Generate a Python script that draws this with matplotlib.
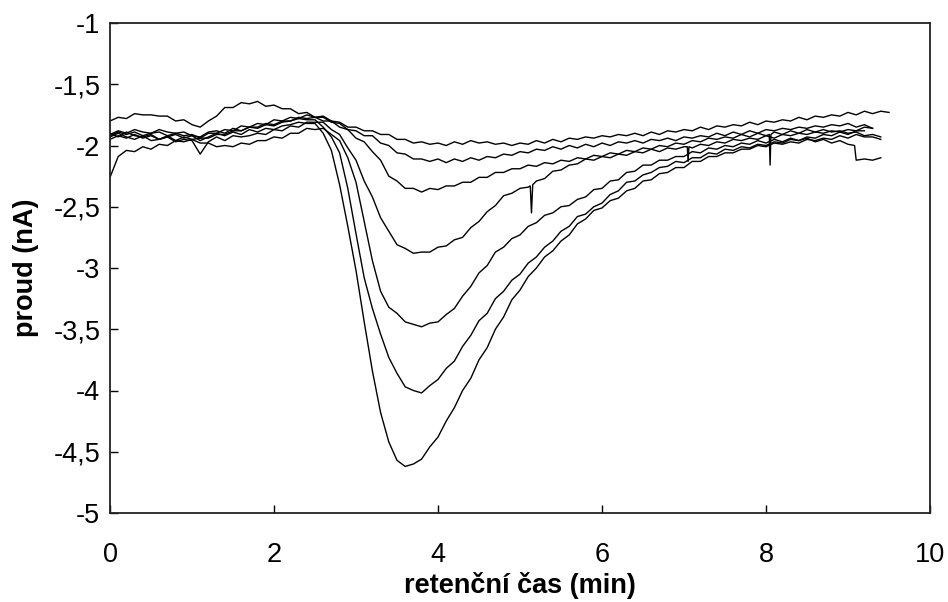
import numpy as np
import matplotlib
matplotlib.use("Agg")
import matplotlib.pyplot as plt
from matplotlib.ticker import FuncFormatter

plt.rcParams['font.family'] = ['Liberation Sans', 'DejaVu Sans']

# sampling step of the traces (min)
step = 0.1

c1 = [-1.95,-1.92,-1.94,-1.91,-1.94,-1.92,-1.95,-1.93,-1.91,-1.94,
      -1.92,-1.96,-1.93,-1.90,-1.92,-1.89,-1.91,-1.87,-1.89,-1.86,
      -1.87,-1.84,-1.83,-1.81,-1.82,-1.82,-1.90,-2.04,-2.32,-2.66,
      -3.02,-3.44,-3.84,-4.18,-4.42,-4.57,-4.62,-4.60,-4.56,-4.46,
      -4.38,-4.25,-4.14,-4.00,-3.90,-3.75,-3.65,-3.50,-3.40,-3.26,
      -3.18,-3.07,-3.00,-2.91,-2.86,-2.78,-2.73,-2.64,-2.60,-2.53,
      -2.51,-2.45,-2.43,-2.37,-2.35,-2.29,-2.28,-2.23,-2.22,-2.18,
      -2.18,-2.13,-2.13,-2.09,-2.09,-2.06,-2.06,-2.03,-2.03,-2.00,
      -2.01,-1.98,-1.99,-1.97,-1.98,-1.95,-1.96,-1.94,-1.95,-1.92,
      -1.94,-1.91,-1.93,-1.93,-1.95]

c2 = [-1.92,-1.89,-1.91,-1.89,-1.92,-1.90,-1.89,-1.92,-1.90,-1.89,
      -1.92,-1.93,-1.89,-1.88,-1.90,-1.86,-1.88,-1.85,-1.86,-1.83,
      -1.84,-1.81,-1.80,-1.78,-1.79,-1.79,-1.85,-1.93,-2.06,-2.35,
      -2.72,-3.08,-3.33,-3.54,-3.73,-3.86,-3.97,-4.00,-4.02,-3.96,
      -3.91,-3.82,-3.76,-3.64,-3.55,-3.43,-3.37,-3.25,-3.19,-3.10,
      -3.05,-2.96,-2.91,-2.83,-2.78,-2.70,-2.66,-2.58,-2.56,-2.50,
      -2.47,-2.40,-2.37,-2.30,-2.29,-2.24,-2.22,-2.18,-2.17,-2.13,
      -2.14,-2.10,-2.10,-2.06,-2.07,-2.03,-2.04,-2.01,-2.02,-1.99,
      -2.00,-1.97,-1.98,-1.95,-1.96,-1.93,-1.94,-1.91,-1.92,-1.89,
      -1.91,-1.88,-1.88]

c3 = [-2.26,-2.09,-2.04,-2.05,-2.01,-2.03,-1.99,-2.00,-1.96,-1.97,
      -1.95,-1.98,-1.98,-2.01,-2.00,-2.01,-1.98,-1.99,-1.96,-1.96,
      -1.93,-1.94,-1.90,-1.90,-1.86,-1.87,-1.86,-1.91,-1.96,-2.10,
      -2.30,-2.62,-2.94,-3.19,-3.32,-3.37,-3.44,-3.46,-3.48,-3.45,
      -3.44,-3.38,-3.33,-3.23,-3.15,-3.04,-2.98,-2.87,-2.83,-2.76,
      -2.73,-2.66,-2.63,-2.57,-2.55,-2.50,-2.49,-2.44,-2.42,-2.36,
      -2.35,-2.29,-2.28,-2.22,-2.21,-2.16,-2.16,-2.12,-2.12,-2.09,
      -2.09,-2.05,-2.06,-2.02,-2.03,-2.00,-2.01,-1.98,-1.99,-1.96,
      -1.98,-1.95,-1.97,-1.94,-1.96,-1.94,-1.97,-1.95,-1.98,-1.96,
      -1.99,-2.12,-2.11,-2.12,-2.10]

c4 = [-1.93,-1.90,-1.93,-1.95,-1.92,-1.96,-1.95,-1.93,-1.97,-1.95,
      -1.96,-2.07,-1.97,-1.93,-1.96,-1.92,-1.93,-1.92,-1.90,-1.91,
      -1.87,-1.88,-1.84,-1.85,-1.81,-1.81,-1.81,-1.87,-1.91,-2.02,
      -2.12,-2.29,-2.42,-2.59,-2.70,-2.81,-2.84,-2.88,-2.87,-2.87,
      -2.83,-2.82,-2.77,-2.75,-2.67,-2.62,-2.54,-2.49,-2.41,-2.39,
      -2.35,-2.34,-2.29,-2.27,-2.21,-2.20,-2.16,-2.15,-2.11,-2.12,
      -2.09,-2.10,-2.07,-2.08,-2.05,-2.06,-2.03,-2.05,-2.02,-2.03,
      -2.01,-2.02,-1.99,-2.00,-1.97,-1.98,-1.95,-1.96,-1.94,-1.95,
      -1.92,-1.94,-1.91,-1.92,-1.90,-1.91,-1.89,-1.90,-1.88,-1.89,
      -1.87,-1.88,-1.85,-1.86]

c5 = [-1.90,-1.93,-1.89,-1.92,-1.93,-1.91,-1.95,-1.92,-1.96,-1.93,
      -1.95,-1.94,-1.94,-1.91,-1.91,-1.88,-1.88,-1.85,-1.85,-1.82,
      -1.83,-1.80,-1.80,-1.77,-1.78,-1.77,-1.80,-1.80,-1.85,-1.87,
      -1.94,-1.97,-2.05,-2.12,-2.25,-2.29,-2.35,-2.35,-2.38,-2.35,
      -2.36,-2.33,-2.33,-2.30,-2.30,-2.26,-2.26,-2.22,-2.22,-2.19,
      -2.19,-2.16,-2.17,-2.14,-2.15,-2.12,-2.13,-2.10,-2.11,-2.08,
      -2.09,-2.06,-2.07,-2.04,-2.05,-2.02,-2.03,-2.00,-2.01,-1.98,
      -1.99,-1.96,-1.97,-1.94,-1.95,-1.93,-1.94,-1.91,-1.93,-1.90,
      -1.92,-1.89,-1.91,-1.88,-1.90,-1.87,-1.89,-1.87,-1.89,-1.88,
      -1.90,-1.89,-1.92,-1.91,-1.93]

c6 = [-1.91,-1.88,-1.90,-1.87,-1.89,-1.90,-1.87,-1.89,-1.90,-1.92,
      -1.91,-1.94,-1.90,-1.90,-1.87,-1.88,-1.84,-1.85,-1.82,-1.83,
      -1.79,-1.80,-1.77,-1.78,-1.75,-1.77,-1.77,-1.81,-1.82,-1.87,
      -1.88,-1.92,-1.92,-1.98,-2.00,-2.06,-2.07,-2.11,-2.11,-2.13,
      -2.11,-2.14,-2.11,-2.13,-2.10,-2.12,-2.09,-2.10,-2.07,-2.08,
      -2.05,-2.06,-2.03,-2.04,-2.01,-2.03,-2.00,-2.02,-1.99,-2.01,
      -1.98,-2.00,-1.97,-1.98,-1.96,-1.98,-1.95,-1.96,-1.94,-1.96,
      -1.93,-1.94,-1.92,-1.93,-1.90,-1.92,-1.89,-1.91,-1.88,-1.90,
      -1.87,-1.88,-1.86,-1.87,-1.85,-1.86,-1.84,-1.85,-1.83,-1.84,
      -1.82,-1.85,-1.83,-1.86]

c7 = [-1.80,-1.77,-1.78,-1.74,-1.75,-1.75,-1.76,-1.76,-1.80,-1.79,
      -1.83,-1.85,-1.80,-1.76,-1.69,-1.69,-1.65,-1.66,-1.64,-1.68,
      -1.67,-1.70,-1.70,-1.74,-1.73,-1.77,-1.76,-1.80,-1.81,-1.85,
      -1.85,-1.88,-1.88,-1.91,-1.91,-1.95,-1.95,-1.98,-1.97,-1.99,
      -1.98,-2.00,-1.97,-1.99,-1.96,-1.98,-1.97,-1.99,-1.98,-2.00,
      -1.98,-1.99,-1.96,-1.98,-1.95,-1.97,-1.94,-1.95,-1.93,-1.94,
      -1.92,-1.93,-1.91,-1.92,-1.90,-1.92,-1.89,-1.91,-1.88,-1.89,
      -1.87,-1.88,-1.85,-1.87,-1.84,-1.85,-1.83,-1.84,-1.81,-1.83,
      -1.80,-1.81,-1.79,-1.80,-1.77,-1.79,-1.76,-1.77,-1.75,-1.76,
      -1.73,-1.75,-1.72,-1.74,-1.72,-1.73]

# narrow artefacts (spikes / steps) sampled between the regular points
c3_extra_x = [9.08]
c3_extra_y = [-2.00]
c4_extra_x = [5.125, 5.14, 5.155, 7.04, 7.05, 7.06]
c4_extra_y = [-2.33, -2.55, -2.32, -2.01, -2.13, -2.01]
c5_extra_x = [8.04, 8.05, 8.06]
c5_extra_y = [-1.91, -2.16, -1.91]

series = [
    (c1, [], []),
    (c2, [], []),
    (c3, c3_extra_x, c3_extra_y),
    (c4, c4_extra_x, c4_extra_y),
    (c5, c5_extra_x, c5_extra_y),
    (c6, [], []),
    (c7, [], []),
]

x_ticks = [0, 2, 4, 6, 8, 10]
y_ticks = [-5, -4.5, -4, -3.5, -3, -2.5, -2, -1.5, -1]

fig = plt.figure(figsize=(9.48, 6.02), dpi=100)
ax = fig.add_axes([110/948, 1-513/602, 820/948, 490/602])

for ys, ex, ey in series:
    xs = list(np.round(np.arange(len(ys)) * step, 2)) + list(ex)
    yy = list(ys) + list(ey)
    order = np.argsort(xs, kind='stable')
    ax.plot(np.array(xs)[order], np.array(yy)[order], color='black', lw=1.0)

ax.set_xlim(0, 10)
ax.set_ylim(-5, -1)
ax.set_xticks(x_ticks)
ax.set_yticks(y_ticks)
fmt = FuncFormatter(lambda v, p: ('%g' % v).replace('.', ','))
ax.xaxis.set_major_formatter(fmt)
ax.yaxis.set_major_formatter(fmt)
ax.tick_params(direction='in', length=6, width=1, labelsize=19.5, colors='black')
ax.tick_params(axis='y', pad=7)
ax.tick_params(axis='x', pad=21)
for s in ax.spines.values():
    s.set_linewidth(1.3)
    s.set_color('#222222')

ax.set_xlabel('retenční čas (min)', fontsize=19.5, fontweight='bold', labelpad=3)
ax.set_ylabel('proud (nA)', fontsize=19.5, fontweight='bold', labelpad=10)

fig.savefig('out.png', dpi=100)
